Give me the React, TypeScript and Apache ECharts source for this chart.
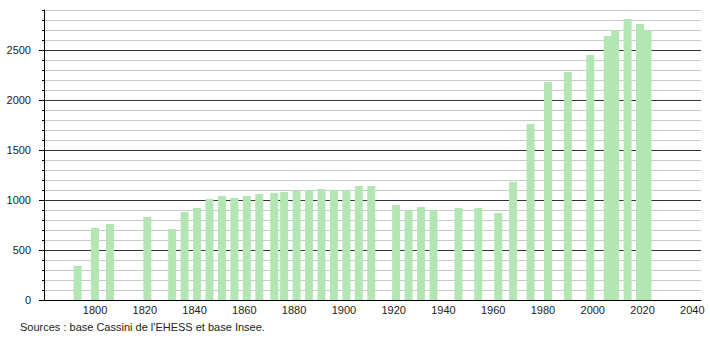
import React, { useEffect, useRef } from "react";
import * as echarts from "echarts";

const years = [1793, 1800, 1806, 1821, 1831, 1836, 1841, 1846, 1851, 1856, 1861, 1866, 1872, 1876, 1881, 1886, 1891, 1896, 1901, 1906, 1911, 1921, 1926, 1931, 1936, 1946, 1954, 1962, 1968, 1975, 1982, 1990, 1999, 2006, 2009, 2014, 2019, 2022];
const population = [340, 720, 760, 830, 710, 880, 920, 1010, 1040, 1020, 1040, 1060, 1070, 1080, 1090, 1097, 1110, 1100, 1100, 1140, 1140, 950, 900, 930, 900, 920, 920, 870, 1180, 1760, 2180, 2280, 2450, 2640, 2700, 2810, 2760, 2700];
const xTickLabels = [1800, 1820, 1840, 1860, 1880, 1900, 1920, 1940, 1960, 1980, 2000, 2020, 2040];
const yMajorTicks = [0, 500, 1000, 1500, 2000, 2500];
const sourceText = "Sources : base Cassini de l'EHESS et base Insee.";

export default function App() {
  const ref = useRef<HTMLDivElement>(null);
  useEffect(() => {
    if (!ref.current) return;
    const chart = echarts.init(ref.current, null, { renderer: "svg" });
    const font = "'Liberation Sans', Arial, sans-serif";
    chart.setOption({
      animation: false,
      grid: { left: 44, right: 9, top: 10, bottom: 40, containLabel: false },
      xAxis: {
        type: "value",
        min: 1779.5,
        max: 2043.5,
        axisLine: { show: true, lineStyle: { color: "#000", width: 1 } },
        axisTick: { show: false },
        splitLine: { show: false },
        axisLabel: {
          customValues: xTickLabels,
          formatter: (v: number) => String(v),
          color: "#222",
          fontFamily: font,
          fontSize: 11,
          margin: 4,
          showMinLabel: true,
          showMaxLabel: true,
        },
      },
      yAxis: [
        {
          type: "value",
          min: 0,
          max: 2900,
          interval: 100,
          axisLine: { show: true, lineStyle: { color: "#000", width: 1 } },
          axisTick: { show: true, length: 2, lineStyle: { color: "#000" } },
          axisLabel: {
            formatter: (v: number) => (v % 500 === 0 && v <= 2500 ? String(v) : ""),
            color: "#222",
            fontFamily: font,
            fontSize: 11,
            margin: 13,
          },
          splitLine: {
            show: true,
            lineStyle: {
              color: ["#333333", "#c8c8c8", "#c8c8c8", "#c8c8c8", "#c8c8c8"],
              width: 1,
            },
          },
        },
        {
          type: "value",
          min: 0,
          max: 2900,
          interval: 500,
          position: "left",
          axisLine: { show: false },
          axisTick: { show: true, length: 5, customValues: yMajorTicks, lineStyle: { color: "#000" } },
          axisLabel: { show: false },
          splitLine: { show: false },
        },
      ],
      graphic: [
        {
          type: "text",
          left: 20,
          top: 321,
          style: { text: sourceText, fill: "#222", font: `11px ${font}` },
        },
      ],
      series: [
        {
          type: "bar",
          yAxisIndex: 0,
          barWidth: 8,
          itemStyle: { color: "#b3e6b3" },
          data: years.map((y, i) => [y, population[i]]),
        },
      ],
    });
    return () => chart.dispose();
  }, []);
  return <div ref={ref} style={{ width: 710, height: 340, position: "absolute", left: 0, top: 0 }} />;
}
